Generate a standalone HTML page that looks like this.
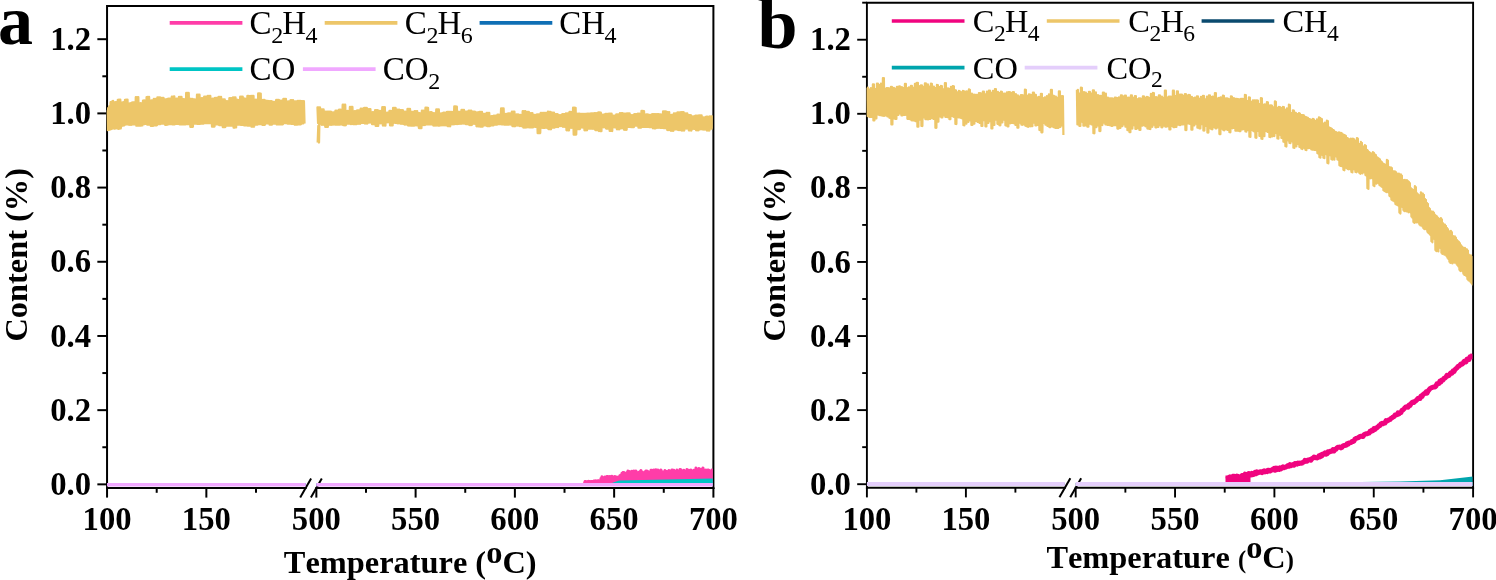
<!DOCTYPE html>
<html lang="en"><head><meta charset="utf-8"><title>Content vs Temperature</title>
<style>html,body{margin:0;padding:0;background:#fff;}body{width:1496px;height:580px;overflow:hidden;}svg{display:block;font-kerning:none;}</style></head><body>
<svg width="1496" height="580" viewBox="0 0 1496 580">
<rect width="1496" height="580" fill="#fff"/>
<clipPath id="clipa"><rect x="106.65" y="6.05" width="606.15" height="481.95"/></clipPath>
<g stroke="#000" stroke-width="2.0" fill="none" stroke-linecap="square">
<path d="M107.05,488 L107.05,6.05 L713.4,6.05 L713.4,488"/>
<path d="M107.05,488 L305.65,488 M316.35,488 L713.4,488"/>
</g>
<g stroke="#000" stroke-width="2.0" fill="none" stroke-linecap="butt">
<line x1="300.2" y1="497.45" x2="311.1" y2="478.55" stroke-width="2.0"/>
<line x1="310.9" y1="497.45" x2="321.8" y2="478.55" stroke-width="2.0"/>
<line x1="97.35" y1="484.35" x2="107.05" y2="484.35"/>
<line x1="102.35" y1="447.25" x2="107.05" y2="447.25"/>
<line x1="97.35" y1="410.16" x2="107.05" y2="410.16"/>
<line x1="102.35" y1="373.06" x2="107.05" y2="373.06"/>
<line x1="97.35" y1="335.97" x2="107.05" y2="335.97"/>
<line x1="102.35" y1="298.87" x2="107.05" y2="298.87"/>
<line x1="97.35" y1="261.77" x2="107.05" y2="261.77"/>
<line x1="102.35" y1="224.68" x2="107.05" y2="224.68"/>
<line x1="97.35" y1="187.58" x2="107.05" y2="187.58"/>
<line x1="102.35" y1="150.49" x2="107.05" y2="150.49"/>
<line x1="97.35" y1="113.39" x2="107.05" y2="113.39"/>
<line x1="102.35" y1="76.29" x2="107.05" y2="76.29"/>
<line x1="97.35" y1="39.2" x2="107.05" y2="39.2"/>
<line x1="107.05" y1="488" x2="107.05" y2="497.6"/>
<line x1="156.7" y1="488" x2="156.7" y2="492.8"/>
<line x1="206.35" y1="488" x2="206.35" y2="497.6"/>
<line x1="256" y1="488" x2="256" y2="492.8"/>
<line x1="316.35" y1="488" x2="316.35" y2="497.6"/>
<line x1="365.98" y1="488" x2="365.98" y2="492.8"/>
<line x1="415.61" y1="488" x2="415.61" y2="497.6"/>
<line x1="465.24" y1="488" x2="465.24" y2="492.8"/>
<line x1="514.88" y1="488" x2="514.88" y2="497.6"/>
<line x1="564.51" y1="488" x2="564.51" y2="492.8"/>
<line x1="614.14" y1="488" x2="614.14" y2="497.6"/>
<line x1="663.77" y1="488" x2="663.77" y2="492.8"/>
<line x1="713.4" y1="488" x2="713.4" y2="497.6"/>
</g>
<g clip-path="url(#clipa)">
<polyline points="107.05,110.1 107.65,130.09 108.25,108.1 108.85,129.79 109.45,106.1 110.05,129.49 110.65,102.22 111.25,128.93 111.85,101.62 112.45,128.63 113.05,101.02 113.65,128.36 114.25,102.7 114.85,128.63 115.45,102.25 116.05,128.38 116.65,102.1 117.25,128.13 117.85,99.96 118.45,128.9 119.05,99.81 119.65,128.65 120.25,99.66 120.85,128.4 121.45,102.49 122.05,125.69 122.65,102.34 123.25,125.44 123.85,102.19 124.45,125.19 125.05,99.93 125.65,124.39 126.25,99.78 126.85,124.34 127.45,99.65 128.05,124.29 128.65,103.4 129.25,124.8 129.85,103.33 130.45,124.74 131.05,103.26 131.65,124.69 132.25,102.42 132.85,124.32 133.45,102.35 134.05,124.26 134.65,102.29 135.25,124.21 135.85,97.26 136.45,125.61 137.05,97.19 137.65,125.56 138.25,97.12 138.85,125.5 139.45,103.24 140.05,125.5 140.65,103.17 141.25,125.44 141.85,103.1 142.45,125.39 143.05,100.6 143.65,124 144.25,100.53 144.85,123.94 145.45,100.46 146.05,123.89 146.65,97.12 147.25,124.48 147.85,97.05 148.45,124.47 149.05,96.98 149.65,124.47 150.25,100.49 150.85,125.82 151.45,100.42 152.05,125.82 152.65,100.36 153.25,125.82 153.85,99.01 154.45,125.19 155.05,98.94 155.65,125.18 156.25,98.87 156.85,125.18 157.45,97.5 158.05,124.01 158.65,97.44 159.25,124.01 159.85,97.37 160.45,124 161.05,98.07 161.65,123.65 162.25,98 162.85,123.65 163.45,97.92 164.05,123.64 164.65,99.47 165.25,124.68 165.85,99.39 166.45,124.68 167.05,99.31 167.65,124.67 168.25,98.76 168.85,124.13 169.45,98.68 170.05,124.13 170.65,98.6 171.25,124.12 171.85,96.72 172.45,124.31 173.05,96.64 173.65,124.31 174.25,96.56 174.85,124.3 175.45,98.86 176.05,123.81 176.65,98.78 177.25,123.81 177.85,98.76 178.45,123.81 179.05,96.98 179.65,124.3 180.25,96.99 180.85,124.3 181.45,97 182.05,124.29 182.65,99.13 183.25,124.31 183.85,99.14 184.45,124.3 185.05,99.15 185.65,124.3 186.25,92.95 186.85,124.08 187.45,92.96 188.05,124.07 188.65,92.97 189.25,124.07 189.85,98.82 190.45,126.76 191.05,98.83 191.65,126.76 192.25,98.84 192.85,126.75 193.45,99.51 194.05,123.53 194.65,99.52 195.25,123.52 195.85,99.53 196.45,123.52 197.05,94.76 197.65,123.92 198.25,94.77 198.85,123.91 199.45,94.78 200.05,123.91 200.65,98.1 201.25,123.44 201.85,98.11 202.45,123.43 203.05,98.12 203.65,123.43 204.25,96.75 204.85,123.08 205.45,96.76 206.05,123.07 206.65,96.77 207.25,123.07 207.85,95.97 208.45,122.95 209.05,95.98 209.65,122.95 210.25,95.99 210.85,122.95 211.45,98.7 212.05,126.49 212.65,98.71 213.25,126.48 213.85,98.72 214.45,126.48 215.05,98.03 215.65,124.21 216.25,98.04 216.85,124.21 217.45,98.05 218.05,124.21 218.65,96.9 219.25,125.05 219.85,96.91 220.45,125.04 221.05,96.92 221.65,125.04 222.25,99.36 222.85,127 223.45,99.37 224.05,127 224.65,99.38 225.25,126.99 225.85,101.2 226.45,125.62 227.05,101.21 227.65,125.61 228.25,101.22 228.85,125.61 229.45,98.24 230.05,125.67 230.65,98.25 231.25,125.66 231.85,98.26 232.45,125.66 233.05,97.43 233.65,127.43 234.25,97.44 234.85,127.43 235.45,97.45 236.05,127.42 236.65,99.82 237.25,124.52 237.85,99.87 238.45,124.52 239.05,99.93 239.65,124.51 240.25,96.68 240.85,124.71 241.45,96.74 242.05,124.7 242.65,96.8 243.25,124.7 243.85,98.54 244.45,125.37 245.05,98.6 245.65,125.37 246.25,98.66 246.85,125.37 247.45,96.01 248.05,125.67 248.65,96.07 249.25,125.66 249.85,96.13 250.45,125.66 251.05,95.88 251.65,126.64 252.25,95.94 252.85,126.64 253.45,96 254.05,126.64 254.65,99.67 255.25,124.43 255.85,99.73 256.45,124.43 257.05,99.79 257.65,124.43 258.25,93.48 258.85,123.98 259.45,93.54 260.05,123.98 260.65,93.6 261.25,123.98 261.85,99.89 262.45,124.74 263.05,99.95 263.65,124.74 264.25,100.01 264.85,124.74 265.45,100.78 266.05,123.3 266.65,100.84 267.25,123.3 267.85,100.87 268.45,123.3 269.05,101.23 269.65,124.45 270.25,101.25 270.85,124.45 271.45,101.26 272.05,124.45 272.65,102.02 273.25,123.56 273.85,102.03 274.45,123.56 275.05,102.05 275.65,123.55 276.25,100.02 276.85,124.4 277.45,100.03 278.05,124.39 278.65,100.05 279.25,124.39 279.85,100.58 280.45,124.27 281.05,100.59 281.65,124.26 282.25,100.61 282.85,124.26 283.45,98.86 284.05,123.17 284.65,98.87 285.25,123.16 285.85,98.89 286.45,123.16 287.05,101.43 287.65,123.52 288.25,101.45 288.85,123.52 289.45,101.46 290.05,123.52 290.65,100.14 291.25,123.73 291.85,100.16 292.45,123.73 293.05,100.18 293.65,123.72 294.25,101.33 294.85,124.62 295.45,101.35 296.05,124.62 296.65,101.36 297.25,124.62 297.85,100.93 298.45,124.23 299.05,100.95 299.65,124.23 300.25,100.96 300.85,124.23 301.45,101.22 302.05,123.42 302.65,101.23 303.25,123.41 303.85,101.25 304.45,123.41" fill="none" stroke="#EDC669" stroke-width="2.4" stroke-linejoin="round" />
<polyline points="317.75,142.5 318.35,126 318.95,142.5 319.35,120 317.55,107.48 318.15,123.17 318.75,107.48 319.35,123.18 319.95,107.47 320.55,123.19 321.15,109.53 321.75,124.79 322.35,109.53 322.95,124.8 323.55,109.53 324.15,124.81 324.75,111.6 325.35,126.85 325.95,111.6 326.55,126.86 327.15,111.59 327.75,126.87 328.35,111.72 328.95,124.78 329.55,111.72 330.15,124.79 330.75,111.71 331.35,124.8 331.95,112.55 332.55,124.52 333.15,112.55 333.75,124.53 334.35,112.55 334.95,124.54 335.55,110.64 336.15,124.65 336.75,110.64 337.35,124.66 337.95,110.63 338.55,124.67 339.15,109.79 339.75,124.45 340.35,109.79 340.95,124.46 341.55,109.79 342.15,124.48 342.75,104.79 343.35,125.17 343.95,104.78 344.55,125.18 345.15,104.78 345.75,125.19 346.35,110.91 346.95,123.61 347.55,110.9 348.15,123.62 348.75,110.9 349.35,123.63 349.95,106.99 350.55,123.94 351.15,106.98 351.75,123.95 352.35,106.98 352.95,123.96 353.55,111.16 354.15,124.08 354.75,111.15 355.35,124.09 355.95,111.15 356.55,124.1 357.15,110.51 357.75,123.67 358.35,110.51 358.95,123.68 359.55,110.5 360.15,123.69 360.75,108.58 361.35,122.9 361.95,108.58 362.55,122.91 363.15,108.58 363.75,122.92 364.35,108.07 364.95,123.47 365.55,108.07 366.15,123.48 366.75,108.07 367.35,123.49 367.95,109.28 368.55,122.5 369.15,109.28 369.75,122.51 370.35,109.28 370.95,122.52 371.55,112.19 372.15,124.15 372.75,112.19 373.35,124.16 373.95,112.18 374.55,124.17 375.15,110.3 375.75,125.84 376.35,110.29 376.95,125.85 377.55,110.29 378.15,125.86 378.75,110.83 379.35,123.2 379.95,110.83 380.55,123.21 381.15,110.83 381.75,123.22 382.35,107.25 382.95,125.56 383.55,107.25 384.15,125.57 384.75,107.25 385.35,125.58 385.95,112.68 386.55,122.22 387.15,112.67 387.75,122.23 388.35,112.67 388.95,122.24 389.55,110.84 390.15,125.4 390.75,110.84 391.35,125.41 391.95,110.83 392.55,125.42 393.15,107.97 393.75,122.81 394.35,107.96 394.95,122.82 395.55,107.96 396.15,122.83 396.75,109.81 397.35,123.26 397.95,109.81 398.55,123.27 399.15,109.81 399.75,123.28 400.35,110.13 400.95,123.73 401.55,110.15 402.15,123.75 402.75,110.16 403.35,123.77 403.95,111.76 404.55,124.5 405.15,111.78 405.75,124.52 406.35,111.79 406.95,124.54 407.55,109.04 408.15,125.47 408.75,109.05 409.35,125.49 409.95,109.07 410.55,125.51 411.15,111.82 411.75,125.61 412.35,111.83 412.95,125.63 413.55,111.85 414.15,125.66 414.75,111.2 415.35,125.29 415.95,111.22 416.55,125.31 417.15,111.23 417.75,125.33 418.35,113.1 418.95,128.06 419.55,113.12 420.15,128.08 420.75,113.13 421.35,128.1 421.95,110.64 422.55,124.99 423.15,110.65 423.75,125.01 424.35,110.67 424.95,125.03 425.55,107.8 426.15,124.37 426.75,107.82 427.35,124.39 427.95,107.83 428.55,124.41 429.15,112.09 429.75,124.31 430.35,112.1 430.95,124.33 431.55,112.12 432.15,124.35 432.75,113.15 433.35,125.44 433.95,113.16 434.55,125.46 435.15,113.18 435.75,125.48 436.35,109.54 436.95,125.55 437.55,109.55 438.15,125.57 438.75,109.57 439.35,125.6 439.95,113.54 440.55,125.24 441.15,113.56 441.75,125.26 442.35,113.57 442.95,125.28 443.55,112.77 444.15,125.27 444.75,112.79 445.35,125.29 445.95,112.8 446.55,125.31 447.15,111.84 447.75,126.13 448.35,111.85 448.95,126.15 449.55,111.87 450.15,126.18 450.75,111.99 451.35,124.23 451.95,112.01 452.55,124.25 453.15,112.02 453.75,124.27 454.35,106.55 454.95,124 455.55,106.56 456.15,124.02 456.75,106.58 457.35,124.04 457.95,111.81 458.55,123.75 459.15,111.83 459.75,123.77 460.35,111.84 460.95,123.79 461.55,110.04 462.15,123.51 462.75,110.06 463.35,123.53 463.95,110.07 464.55,123.55 465.15,111.61 465.75,124.05 466.35,111.62 466.95,124.07 467.55,111.64 468.15,124.09 468.75,110.73 469.35,124.94 469.95,110.75 470.55,124.96 471.15,110.76 471.75,124.98 472.35,111.69 472.95,123.74 473.55,111.7 474.15,123.76 474.75,111.72 475.35,123.78 475.95,112.47 476.55,126.3 477.15,112.49 477.75,126.32 478.35,112.5 478.95,126.34 479.55,111.96 480.15,126.59 480.75,111.97 481.35,126.61 481.95,111.99 482.55,126.63 483.15,114 483.75,125.38 484.35,114.01 484.95,125.41 485.55,114.03 486.15,125.43 486.75,112.88 487.35,126.12 487.95,112.9 488.55,126.14 489.15,112.91 489.75,126.16 490.35,116.22 490.95,125.32 491.55,116.24 492.15,125.34 492.75,116.25 493.35,125.36 493.95,115.59 494.55,124.59 495.15,115.61 495.75,124.61 496.35,115.62 496.95,124.63 497.55,114.69 498.15,124.12 498.75,114.71 499.35,124.14 499.95,114.72 500.55,124.16 501.15,108.53 501.75,124.4 502.35,108.55 502.95,124.42 503.55,108.56 504.15,124.44 504.75,113.84 505.35,124.58 505.95,113.86 506.55,124.6 507.15,113.87 507.75,124.62 508.35,113.48 508.95,124.45 509.55,113.5 510.15,124.47 510.75,113.51 511.35,124.49 511.95,111.64 512.55,126.15 513.15,111.66 513.75,126.17 514.35,111.67 514.95,126.19 515.55,114.45 516.15,125.45 516.75,114.46 517.35,125.47 517.95,114.48 518.55,125.49 519.15,114.84 519.75,126.03 520.35,114.86 520.95,126.05 521.55,114.87 522.15,126.07 522.75,111.24 523.35,127.5 523.95,111.25 524.55,127.52 525.15,111.27 525.75,127.54 526.35,111.86 526.95,127.19 527.55,111.88 528.15,127.21 528.75,111.89 529.35,127.23 529.95,113.12 530.55,127.35 531.15,113.14 531.75,127.37 532.35,113.15 532.95,127.39 533.55,114.93 534.15,126.78 534.75,114.94 535.35,126.8 535.95,114.96 536.55,126.82 537.15,114.51 537.75,133.1 538.35,114.52 538.95,133.12 539.55,114.54 540.15,133.14 540.75,112.98 541.35,127.8 541.95,113 542.55,127.82 543.15,113.01 543.75,127.84 544.35,113.03 544.95,127.78 545.55,113.05 546.15,127.8 546.75,113.06 547.35,127.82 547.95,111.82 548.55,129.15 549.15,111.83 549.75,129.17 550.35,111.85 550.95,129.19 551.55,112.72 552.15,127.63 552.75,112.73 553.35,127.65 553.95,112.75 554.55,127.67 555.15,114.26 555.75,126.92 556.35,114.27 556.95,126.94 557.55,114.29 558.15,126.96 558.75,115.24 559.35,125.95 559.95,115.25 560.55,125.97 561.15,115.27 561.75,125.99 562.35,114.19 562.95,126.68 563.55,114.21 564.15,126.71 564.75,114.22 565.35,126.73 565.95,113.39 566.55,130.29 567.15,113.41 567.75,130.31 568.35,113.43 568.95,130.34 569.55,112.01 570.15,127.72 570.75,112.03 571.35,127.74 571.95,112.04 572.55,127.76 573.15,107.8 573.75,134.45 574.35,107.81 574.95,134.47 575.55,107.83 576.15,134.49 576.75,113.59 577.35,129.09 577.95,113.6 578.55,129.11 579.15,113.62 579.75,129.13 580.35,113.89 580.95,127.47 581.55,113.9 582.15,127.49 582.75,113.92 583.35,127.51 583.95,113.91 584.55,130.21 585.15,113.93 585.75,130.23 586.35,113.94 586.95,130.25 587.55,113.78 588.15,128.58 588.75,113.79 589.35,128.6 589.95,113.81 590.55,128.62 591.15,113.43 591.75,128.67 592.35,113.44 592.95,128.69 593.55,113.46 594.15,128.71 594.75,113.28 595.35,130.08 595.95,113.3 596.55,130.1 597.15,113.31 597.75,130.12 598.35,112.55 598.95,131.06 599.55,112.57 600.15,131.08 600.75,112.58 601.35,131.1 601.95,114.64 602.55,127.16 603.15,114.65 603.75,127.18 604.35,114.67 604.95,127.2 605.55,114.02 606.15,128.56 606.75,114.04 607.35,128.58 607.95,114.06 608.55,128.6 609.15,113.65 609.75,130.9 610.35,113.67 610.95,130.92 611.55,113.68 612.15,130.94 612.75,115.7 613.35,127.29 613.95,115.71 614.55,127.31 615.15,115.73 615.75,127.33 616.35,114.37 616.95,129.27 617.55,114.39 618.15,129.29 618.75,114.4 619.35,129.31 619.95,113.22 620.55,128.21 621.15,113.24 621.75,128.23 622.35,113.25 622.95,128.25 623.55,113.6 624.15,129.79 624.75,113.62 625.35,129.81 625.95,113.63 626.55,129.83 627.15,113.36 627.75,126.9 628.35,113.38 628.95,126.92 629.55,113.39 630.15,126.94 630.75,115.22 631.35,127.04 631.95,115.24 632.55,127.07 633.15,115.25 633.75,127.09 634.35,114.27 634.95,125.59 635.55,114.28 636.15,125.61 636.75,114.3 637.35,125.63 637.95,113.78 638.55,127.59 639.15,113.79 639.75,127.61 640.35,113.81 640.95,127.63 641.55,111.06 642.15,126.83 642.75,111.07 643.35,126.85 643.95,111.09 644.55,126.87 645.15,114.35 645.75,126.83 646.35,114.36 646.95,126.85 647.55,114.38 648.15,126.87 648.75,115.04 649.35,127.09 649.95,115.05 650.55,127.11 651.15,115.07 651.75,127.13 652.35,114.22 652.95,128.3 653.55,114.23 654.15,128.32 654.75,114.25 655.35,128.34 655.95,114.09 656.55,127.72 657.15,114.1 657.75,127.74 658.35,114.12 658.95,127.76 659.55,114.42 660.15,127.81 660.75,114.44 661.35,127.83 661.95,114.45 662.55,127.85 663.15,111.37 663.75,128.15 664.35,111.39 664.95,128.17 665.55,111.4 666.15,128.19 666.75,112.07 667.35,129.95 667.95,112.08 668.55,129.97 669.15,112.1 669.75,129.99 670.35,114.93 670.95,130.68 671.55,114.95 672.15,130.7 672.75,114.97 673.35,130.72 673.95,113.41 674.55,129.33 675.15,113.42 675.75,129.35 676.35,113.44 676.95,129.37 677.55,112.4 678.15,129.96 678.75,112.41 679.35,129.98 679.95,112.43 680.55,130 681.15,112.23 681.75,130.54 682.35,112.25 682.95,130.56 683.55,112.27 684.15,130.58 684.75,113.5 685.35,128.51 685.95,113.52 686.55,128.53 687.15,113.53 687.75,128.55 688.35,115.07 688.95,130.39 689.55,115.09 690.15,130.41 690.75,115.1 691.35,130.43 691.95,116.49 692.55,128.79 693.15,116.5 693.75,128.81 694.35,116.52 694.95,128.84 695.55,115.78 696.15,130.27 696.75,115.8 697.35,130.29 697.95,115.81 698.55,130.31 699.15,115.42 699.75,129.16 700.35,115.44 700.95,129.18 701.55,115.45 702.15,129.2 702.75,117.35 703.35,129.5 703.95,117.36 704.55,129.52 705.15,117.38 705.75,129.54 706.35,116.8 706.95,130.43 707.55,116.82 708.15,130.45 708.75,116.84 709.35,130.47 709.95,116.48 710.55,128.58 711.15,116.5 711.75,128.6 712.35,116.51 712.95,128.62" fill="none" stroke="#EDC669" stroke-width="2.4" stroke-linejoin="round" />
<path d="M107.05,484.55 H305.65 M316.35,484.55 H713.4" stroke="#0F6FB5" stroke-width="2.4" fill="none"/>
<polyline points="584.5,483.48 585,481.55 585.5,483.47 586,481.69 586.5,483.84 587,481.69 587.5,483.65 588,481.42 588.5,483.55 589,481.39 589.5,483.36 590,481.59 590.5,483.93 591,481.42 591.5,483.36 592,481.44 592.5,483.77 593,481.5 593.5,483.51 594,481.09 594.5,483.88 595,481.06 595.5,483.59 596,480.86 596.5,483.89 597,481.1 597.5,483.77 598,480.75 598.5,483.67 599,480.89 599.5,483.37 600,480.72 600.5,483.94 601,478.44 601.5,483.94 602,476.71 602.5,483.62 603,477.7 603.5,482.35 604,477.42 604.5,482.43 605,476.91 605.5,483.94 606,477.42 606.5,484.16 607,476.58 607.5,483.26 608,476.6 608.5,483.2 609,476.91 609.5,483.07 610,476.41 610.5,482.24 611,477.43 611.5,482.9 612,476.16 612.5,482.83 613,476.93 613.5,483.18 614,476.79 614.5,483.9 615,476.46 615.5,483.68 616,476.93 616.5,482.67 617,477.23 617.5,483.25 618,477 618.5,483.44 619,476.68 619.5,482.73 620,475.5 620.5,483.84 621,475.11 621.5,482.29 622,473.25 622.5,481.6 623,472.53 623.5,484 624,472.53 624.5,481.23 625,473.25 625.5,483.81 626,473.43 626.5,482.19 627,472.4 627.5,482.13 628,470.92 628.5,482.02 629,471.57 629.5,482.47 630,471.72 630.5,482.63 631,473.11 631.5,483.27 632,471.33 632.5,483.61 633,471.36 633.5,482.94 634,470.97 634.5,483.32 635,472.99 635.5,483.55 636,471.03 636.5,481.96 637,472.81 637.5,483.61 638,472.62 638.5,483.66 639,472.18 639.5,482.92 640,471.48 640.5,484.35 641,470.44 641.5,482.2 642,472.12 642.5,481.49 643,472.47 643.5,483.69 644,472.57 644.5,483.66 645,471.66 645.5,483.16 646,470.94 646.5,481.93 647,471.12 647.5,482.44 648,471.57 648.5,481.4 649,472.91 649.5,483.96 650,472.09 650.5,482.72 651,470.3 651.5,483.61 652,470.33 652.5,483.71 653,470.96 653.5,481.39 654,469.92 654.5,480.85 655,471.85 655.5,481.23 656,469.8 656.5,482.01 657,470.2 657.5,480.98 658,470.07 658.5,482.89 659,470.8 659.5,482.53 660,472.25 660.5,480.8 661,469.99 661.5,480.92 662,471.77 662.5,482.14 663,472.44 663.5,480.9 664,471.74 664.5,480.76 665,470.61 665.5,483.37 666,471.5 666.5,480.84 667,471.44 667.5,481.47 668,472.63 668.5,481.73 669,470.39 669.5,483.69 670,471.8 670.5,481.14 671,470.78 671.5,481.7 672,470.12 672.5,481.01 673,470.25 673.5,482.12 674,470.24 674.5,483.87 675,471.35 675.5,481.62 676,472.04 676.5,483.69 677,469.99 677.5,483.62 678,471.99 678.5,481.71 679,472.4 679.5,481.59 680,469.57 680.5,481.93 681,469.81 681.5,482.91 682,470.93 682.5,482.43 683,472.4 683.5,483.12 684,470.19 684.5,481.92 685,471.4 685.5,483.45 686,471.93 686.5,482.01 687,469.39 687.5,481.42 688,470.97 688.5,481.84 689,470.35 689.5,481.49 690,472.39 690.5,480.87 691,469.98 691.5,482.32 692,470.93 692.5,481.28 693,471.43 693.5,481.56 694,470.21 694.5,482.36 695,470.63 695.5,482.59 696,467.92 696.5,483 697,471.27 697.5,482.93 698,472.23 698.5,482.71 699,468.54 699.5,481.29 700,472.34 700.5,482.33 701,469.31 701.5,481.57 702,471.31 702.5,480.66 703,467.91 703.5,482.5 704,470.11 704.5,482.82 705,470.78 705.5,483.58 706,469.88 706.5,483.32 707,471.19 707.5,481.19 708,470 708.5,482.66 709,470.16 709.5,483.8 710,471.09 710.5,483.01 711,472.01 711.5,480.82 712,469.91 712.5,483.93 713,471.02" fill="none" stroke="#FF3DA8" stroke-width="3" stroke-linejoin="round" />
<path d="M609,484 L619,480.4 L713.4,478.4 L713.4,486 L609,486 Z" fill="#00C5C5"/>
<line x1="107.05" y1="484.75" x2="305.65" y2="484.75" stroke="#F0A8FF" stroke-width="3.4"/>
<line x1="316.35" y1="484.75" x2="713.4" y2="484.75" stroke="#F0A8FF" stroke-width="3.4"/>
</g>
<g font-family='"Liberation Serif", serif' font-weight="bold" font-size="32.7" fill="#000">
<text x="91.05" y="494.95" text-anchor="end">0.0</text>
<text x="91.05" y="420.76" text-anchor="end">0.2</text>
<text x="91.05" y="346.57" text-anchor="end">0.4</text>
<text x="91.05" y="272.37" text-anchor="end">0.6</text>
<text x="91.05" y="198.18" text-anchor="end">0.8</text>
<text x="91.05" y="123.99" text-anchor="end">1.0</text>
<text x="91.05" y="49.8" text-anchor="end">1.2</text>
<text x="107.05" y="530" text-anchor="middle">100</text>
<text x="206.35" y="530" text-anchor="middle">150</text>
<text x="316.35" y="530" text-anchor="middle">500</text>
<text x="415.61" y="530" text-anchor="middle">550</text>
<text x="514.88" y="530" text-anchor="middle">600</text>
<text x="614.14" y="530" text-anchor="middle">650</text>
<text x="713.4" y="530" text-anchor="middle">700</text>
<text x="283.8" y="572.7" font-size="32.4">Temperature (<tspan dy="-9.6">o</tspan><tspan dy="9.6">C)</tspan></text>
<text transform="translate(27.3,254.8) rotate(-90)" text-anchor="middle" font-size="32.4">Content (%)</text>
<text x="-2" y="43.8" font-size="70">a</text>
</g>
<g font-family='"Liberation Serif", serif' font-size="33" fill="#000">
<line x1="169.7" y1="22.9" x2="242.4" y2="22.9" stroke="#FF3DA8" stroke-width="3.7"/>
<text x="249.55" y="33.8">C<tspan font-size="24" dy="8.8" dx="-0.4">2</tspan><tspan dy="-8.8" dx="-0.85">H</tspan><tspan font-size="24" dy="8.8" dx="-0.6">4</tspan></text>
<line x1="324.7" y1="22.9" x2="397.4" y2="22.9" stroke="#EDC669" stroke-width="3.7"/>
<text x="404.85" y="33.8">C<tspan font-size="24" dy="8.8" dx="-0.4">2</tspan><tspan dy="-8.8" dx="-0.85">H</tspan><tspan font-size="24" dy="8.8" dx="-0.6">6</tspan></text>
<line x1="479.6" y1="22.9" x2="552.3" y2="22.9" stroke="#0F6FB5" stroke-width="3.7"/>
<text x="559.25" y="33.8">CH<tspan font-size="24" dy="8.8" dx="-0.6">4</tspan></text>
<line x1="169.7" y1="69.2" x2="242.4" y2="69.2" stroke="#00C5C5" stroke-width="3.7"/>
<text x="249.55" y="80.1">CO</text>
<line x1="302.9" y1="69.2" x2="375.6" y2="69.2" stroke="#F0A8FF" stroke-width="3.7"/>
<text x="382.75" y="80.1">CO<tspan font-size="24" dy="8.8" dx="-0.4">2</tspan></text>
</g>
<clipPath id="clipb"><rect x="866.5" y="2.8" width="606" height="485"/></clipPath>
<g stroke="#000" stroke-width="1.9" fill="none" stroke-linecap="square">
<path d="M866.9,487.8 L866.9,2.8 L1473.1,2.8 L1473.1,487.8"/>
<path d="M866.9,487.8 L1064.9,487.8 M1075.7,487.8 L1473.1,487.8"/>
</g>
<g stroke="#000" stroke-width="1.9" fill="none" stroke-linecap="butt">
<line x1="1059.45" y1="497.25" x2="1070.35" y2="478.35" stroke-width="2.0"/>
<line x1="1070.25" y1="497.25" x2="1081.15" y2="478.35" stroke-width="2.0"/>
<line x1="857.2" y1="484.2" x2="866.9" y2="484.2"/>
<line x1="862.2" y1="447.16" x2="866.9" y2="447.16"/>
<line x1="857.2" y1="410.12" x2="866.9" y2="410.12"/>
<line x1="862.2" y1="373.08" x2="866.9" y2="373.08"/>
<line x1="857.2" y1="336.04" x2="866.9" y2="336.04"/>
<line x1="862.2" y1="299" x2="866.9" y2="299"/>
<line x1="857.2" y1="261.96" x2="866.9" y2="261.96"/>
<line x1="862.2" y1="224.92" x2="866.9" y2="224.92"/>
<line x1="857.2" y1="187.88" x2="866.9" y2="187.88"/>
<line x1="862.2" y1="150.84" x2="866.9" y2="150.84"/>
<line x1="857.2" y1="113.8" x2="866.9" y2="113.8"/>
<line x1="862.2" y1="76.76" x2="866.9" y2="76.76"/>
<line x1="857.2" y1="39.72" x2="866.9" y2="39.72"/>
<line x1="862.2" y1="2.68" x2="866.9" y2="2.68"/>
<line x1="866.9" y1="487.8" x2="866.9" y2="497.4"/>
<line x1="916.4" y1="487.8" x2="916.4" y2="492.6"/>
<line x1="965.9" y1="487.8" x2="965.9" y2="497.4"/>
<line x1="1015.4" y1="487.8" x2="1015.4" y2="492.6"/>
<line x1="1075.7" y1="487.8" x2="1075.7" y2="497.4"/>
<line x1="1125.37" y1="487.8" x2="1125.37" y2="492.6"/>
<line x1="1175.05" y1="487.8" x2="1175.05" y2="497.4"/>
<line x1="1224.72" y1="487.8" x2="1224.72" y2="492.6"/>
<line x1="1274.4" y1="487.8" x2="1274.4" y2="497.4"/>
<line x1="1324.07" y1="487.8" x2="1324.07" y2="492.6"/>
<line x1="1373.75" y1="487.8" x2="1373.75" y2="497.4"/>
<line x1="1423.42" y1="487.8" x2="1423.42" y2="492.6"/>
<line x1="1473.1" y1="487.8" x2="1473.1" y2="497.4"/>
</g>
<g clip-path="url(#clipb)">
<polyline points="866.9,87.68 867.4,116.03 867.9,87.65 868.4,116.05 868.9,89.45 869.4,116.94 869.9,89.41 870.4,116.96 870.9,88.03 871.4,116.85 871.9,88 872.4,116.87 872.9,84.28 873.4,120.37 873.9,84.24 874.4,120.39 874.9,88.93 875.4,118.36 875.9,88.89 876.4,118.38 876.9,83.67 877.4,114.55 877.9,83.64 878.4,114.57 878.9,84.96 879.4,115.05 879.9,84.93 880.4,115.06 880.9,83.58 881.4,115.51 881.9,83.55 882.4,115.53 882.9,78.11 883.4,115.82 883.9,78.08 884.4,115.83 884.9,88.64 885.4,115.4 885.9,88.61 886.4,115.42 886.9,88.09 887.4,116.51 887.9,88.05 888.4,116.52 888.9,88.47 889.4,117.78 889.9,88.44 890.4,117.8 890.9,86.9 891.4,124.37 891.9,86.86 892.4,124.39 892.9,87.9 893.4,118.55 893.9,87.86 894.4,118.57 894.9,88.66 895.4,118.84 895.9,88.62 896.4,118.86 896.9,86.89 897.4,114.89 897.9,86.85 898.4,114.91 898.9,86.49 899.4,113.51 899.9,86.46 900.4,113.53 900.9,87.23 901.4,115.45 901.9,87.2 902.4,115.47 902.9,87.99 903.4,114.85 903.9,87.96 904.4,114.87 904.9,83.93 905.4,114.83 905.9,83.9 906.4,114.84 906.9,88.01 907.4,118.84 907.9,87.98 908.4,118.86 908.9,87.34 909.4,119.05 909.9,87.31 910.4,119.07 910.9,85.93 911.4,120.29 911.9,85.89 912.4,120.3 912.9,87.64 913.4,120.39 913.9,87.61 914.4,120.4 914.9,83.76 915.4,121.19 915.9,83.72 916.4,121.21 916.9,82.87 917.4,126.75 917.9,82.84 918.4,126.77 918.9,86.22 919.4,119.6 919.9,86.18 920.4,119.62 920.9,85.26 921.4,126.02 921.9,85.23 922.4,126.04 922.9,86.66 923.4,117.43 923.9,86.63 924.4,117.45 924.9,83.34 925.4,119.12 925.9,83.4 926.4,119.15 926.9,84.34 927.4,119.29 927.9,84.4 928.4,119.33 928.9,86.45 929.4,118.95 929.9,86.51 930.4,118.98 930.9,83.7 931.4,117.88 931.9,83.77 932.4,117.91 932.9,86.51 933.4,118.93 933.9,86.58 934.4,118.97 934.9,87.95 935.4,127.82 935.9,88.02 936.4,127.85 936.9,84.97 937.4,121.6 937.9,85.03 938.4,121.63 938.9,86.88 939.4,116.34 939.9,86.94 940.4,116.37 940.9,85.97 941.4,117.39 941.9,86.03 942.4,117.42 942.9,89.01 943.4,115.49 943.9,89.08 944.4,115.52 944.9,83.02 945.4,116.92 945.9,83.08 946.4,116.95 946.9,88.29 947.4,117.12 947.9,88.35 948.4,117.15 948.9,88.77 949.4,119.14 949.9,88.83 950.4,119.18 950.9,86.91 951.4,115.89 951.9,86.97 952.4,115.92 952.9,86.18 953.4,116.78 953.9,86.24 954.4,116.81 954.9,90.18 955.4,123.93 955.9,90.25 956.4,124.04 956.9,92.01 957.4,117.05 957.9,92.34 958.4,117.28 958.9,90.97 959.4,117.5 959.9,91.3 960.4,117.73 960.9,91.99 961.4,118.22 961.9,92.32 962.4,118.44 962.9,90.91 963.4,125.18 963.9,91.24 964.4,125.41 964.9,91.51 965.4,123.38 965.9,91.84 966.4,123.61 966.9,91.39 967.4,121.73 967.9,91.73 968.4,121.95 968.9,89.43 969.4,120.24 969.9,89.77 970.4,120.47 970.9,93.59 971.4,124.94 971.9,93.63 972.4,124.99 972.9,94.69 973.4,123.63 973.9,94.7 974.4,123.68 974.9,94.79 975.4,120.93 975.9,94.8 976.4,120.99 976.9,94.9 977.4,121.84 977.9,94.91 978.4,121.9 978.9,93.05 979.4,122.85 979.9,93.07 980.4,122.9 980.9,93.29 981.4,125.89 981.9,93.3 982.4,125.94 982.9,91.62 983.4,120.17 983.9,91.63 984.4,120.23 984.9,94.21 985.4,126.32 985.9,94.22 986.4,126.38 986.9,91.71 987.4,122.93 987.9,91.72 988.4,122.99 988.9,90.59 989.4,121.08 989.9,90.6 990.4,121.13 990.9,92.5 991.4,128.45 991.9,92.51 992.4,128.5 992.9,90.93 993.4,124.96 993.9,90.94 994.4,125.01 994.9,89.08 995.4,119.62 995.9,89.09 996.4,119.68 996.9,91.78 997.4,123.84 997.9,91.8 998.4,123.89 998.9,92.82 999.4,125.29 999.9,92.84 1000.4,125.35 1000.9,91.72 1001.4,122.33 1001.9,91.74 1002.4,122.39 1002.9,93.6 1003.4,119.72 1003.9,93.61 1004.4,119.78 1004.9,93.66 1005.4,125.32 1005.9,93.67 1006.4,125.37 1006.9,92.43 1007.4,126.33 1007.9,92.44 1008.4,126.39 1008.9,92.01 1009.4,123.29 1009.9,92.02 1010.4,123.33 1010.9,92.77 1011.4,122.98 1011.9,92.89 1012.4,123.02 1012.9,92.03 1013.4,123.26 1013.9,92.15 1014.4,123.3 1014.9,94.02 1015.4,124.96 1015.9,94.14 1016.4,125 1016.9,95.31 1017.4,127.67 1017.9,95.43 1018.4,127.71 1018.9,96.36 1019.4,122.77 1019.9,96.48 1020.4,122.81 1020.9,95.08 1021.4,124.74 1021.9,95.2 1022.4,124.78 1022.9,95.38 1023.4,124.51 1023.9,95.5 1024.4,124.55 1024.9,89.71 1025.4,125.8 1025.9,89.83 1026.4,125.84 1026.9,95.61 1027.4,126.74 1027.9,95.73 1028.4,126.78 1028.9,94.46 1029.4,126.26 1029.9,94.58 1030.4,126.29 1030.9,94.77 1031.4,126.21 1031.9,94.81 1032.4,126.24 1032.9,92.64 1033.4,122.72 1033.9,92.67 1034.4,122.76 1034.9,94.71 1035.4,125.43 1035.9,94.74 1036.4,125.47 1036.9,97.23 1037.4,124.97 1037.9,97.26 1038.4,125.01 1038.9,96.75 1039.4,130.06 1039.9,96.78 1040.4,130.1 1040.9,93.79 1041.4,132.3 1041.9,93.82 1042.4,132.34 1042.9,98.11 1043.4,122.97 1043.9,98.14 1044.4,123.01 1044.9,97.43 1045.4,124.7 1045.9,97.46 1046.4,124.74 1046.9,96.03 1047.4,125.92 1047.9,96.06 1048.4,125.95 1048.9,94.47 1049.4,127.15 1049.9,94.5 1050.4,127.19 1050.9,89.93 1051.4,126.2 1051.9,89.96 1052.4,126.24 1052.9,95.71 1053.4,127.25 1053.9,95.74 1054.4,127.29 1054.9,96.69 1055.4,127.9 1055.9,96.72 1056.4,127.93 1056.9,97.72 1057.4,127.97 1057.9,97.75 1058.4,128 1058.9,91.38 1059.4,126.83 1059.9,91.41 1060.4,126.86 1060.9,96.03 1061.4,125.34 1061.9,96.05 1062.4,125.38 1062.9,96.2 1063.4,134.95" fill="none" stroke="#EDC669" stroke-width="2.2" stroke-linejoin="round" />
<polyline points="1076.9,89.71 1077.4,124.4 1077.9,89.76 1078.4,124.45 1078.9,93.41 1079.4,125.95 1079.9,93.46 1080.4,126 1080.9,87.72 1081.4,121.73 1081.9,87.77 1082.4,121.78 1082.9,92.05 1083.4,125.66 1083.9,92.09 1084.4,125.71 1084.9,92.63 1085.4,125.41 1085.9,92.68 1086.4,125.46 1086.9,93.9 1087.4,126.71 1087.9,93.95 1088.4,126.76 1088.9,91.74 1089.4,123.71 1089.9,91.78 1090.4,123.76 1090.9,93.4 1091.4,124.51 1091.9,93.44 1092.4,124.55 1092.9,90.37 1093.4,133.24 1093.9,90.42 1094.4,133.28 1094.9,92.42 1095.4,127.13 1095.9,92.46 1096.4,127.17 1096.9,95.13 1097.4,125.54 1097.9,95.18 1098.4,125.58 1098.9,95.92 1099.4,131.03 1099.9,95.96 1100.4,131.08 1100.9,95.94 1101.4,125.01 1101.9,95.99 1102.4,125.06 1102.9,92.55 1103.4,122.73 1103.9,92.59 1104.4,122.77 1104.9,93.64 1105.4,124.41 1105.9,93.69 1106.4,124.46 1106.9,97.56 1107.4,124.97 1107.9,97.61 1108.4,125.01 1108.9,98.32 1109.4,125.11 1109.9,98.37 1110.4,125.16 1110.9,98.4 1111.4,125.88 1111.9,98.44 1112.4,125.92 1112.9,98.65 1113.4,125.21 1113.9,98.7 1114.4,125.26 1114.9,97.65 1115.4,125.24 1115.9,97.7 1116.4,125.28 1116.9,97.98 1117.4,128.57 1117.9,98.02 1118.4,128.62 1118.9,97.29 1119.4,127.83 1119.9,97.34 1120.4,127.87 1120.9,95.43 1121.4,126.19 1121.9,95.45 1122.4,126.21 1122.9,96.3 1123.4,124.33 1123.9,96.32 1124.4,124.36 1124.9,95.68 1125.4,126.67 1125.9,95.71 1126.4,126.69 1126.9,97.7 1127.4,130.18 1127.9,97.73 1128.4,130.2 1128.9,97.66 1129.4,132.08 1129.9,97.68 1130.4,132.11 1130.9,95.43 1131.4,128.56 1131.9,95.45 1132.4,128.58 1132.9,97.55 1133.4,125.31 1133.9,97.58 1134.4,125.34 1134.9,95.99 1135.4,128.93 1135.9,96.01 1136.4,128.96 1136.9,99.15 1137.4,128.24 1137.9,99.17 1138.4,128.26 1138.9,98.34 1139.4,129.86 1139.9,98.37 1140.4,129.88 1140.9,98.49 1141.4,125.73 1141.9,98.51 1142.4,125.75 1142.9,96.24 1143.4,125.16 1143.9,96.27 1144.4,125.18 1144.9,97.57 1145.4,126.28 1145.9,97.6 1146.4,126.31 1146.9,96.97 1147.4,128.54 1147.9,97 1148.4,128.56 1148.9,97.75 1149.4,129.01 1149.9,97.77 1150.4,129.03 1150.9,93.74 1151.4,126.8 1151.9,93.77 1152.4,126.83 1152.9,92.97 1153.4,124.82 1153.9,93 1154.4,124.84 1154.9,97.13 1155.4,127.35 1155.9,97.15 1156.4,127.37 1156.9,97.24 1157.4,126.83 1157.9,97.26 1158.4,126.86 1158.9,95.28 1159.4,125.26 1159.9,95.3 1160.4,125.27 1160.9,96.55 1161.4,127.31 1161.9,96.55 1162.4,127.31 1162.9,97.58 1163.4,125.61 1163.9,97.58 1164.4,125.61 1164.9,90.64 1165.4,126.7 1165.9,90.64 1166.4,126.7 1166.9,97.36 1167.4,126.29 1167.9,97.36 1168.4,126.29 1168.9,96.5 1169.4,129.52 1169.9,96.51 1170.4,129.52 1170.9,96.5 1171.4,125.94 1171.9,96.5 1172.4,125.94 1172.9,90.67 1173.4,127.14 1173.9,90.67 1174.4,127.14 1174.9,95.78 1175.4,126.98 1175.9,95.78 1176.4,126.99 1176.9,91.41 1177.4,124.62 1177.9,91.41 1178.4,124.62 1178.9,94.5 1179.4,125.08 1179.9,94.5 1180.4,125.08 1180.9,94.59 1181.4,124.42 1181.9,94.59 1182.4,124.43 1182.9,95.55 1183.4,124.3 1183.9,95.55 1184.4,124.3 1184.9,94.12 1185.4,130.05 1185.9,94.12 1186.4,130.06 1186.9,95.3 1187.4,123.46 1187.9,95.31 1188.4,123.46 1188.9,94.97 1189.4,123.78 1189.9,94.98 1190.4,123.78 1190.9,96.75 1191.4,129.62 1191.9,96.75 1192.4,129.62 1192.9,98.1 1193.4,125.39 1193.9,98.1 1194.4,125.4 1194.9,97.49 1195.4,123.82 1195.9,97.49 1196.4,123.82 1196.9,96.27 1197.4,127.63 1197.9,96.27 1198.4,127.63 1198.9,98.69 1199.4,128.47 1199.9,98.69 1200.4,128.47 1200.9,96.95 1201.4,124.2 1201.9,96.95 1202.4,124.2 1202.9,95.81 1203.4,130.58 1203.9,95.82 1204.4,130.58 1204.9,99.04 1205.4,125.93 1205.9,99.04 1206.4,125.93 1206.9,96.58 1207.4,132.54 1207.9,96.58 1208.4,132.55 1208.9,95.23 1209.4,128.35 1209.9,95.24 1210.4,128.35 1210.9,96.89 1211.4,129.22 1211.9,96.97 1212.4,129.3 1212.9,96.59 1213.4,127.18 1213.9,96.68 1214.4,127.26 1214.9,93.11 1215.4,128.32 1215.9,93.19 1216.4,128.41 1216.9,98.47 1217.4,127.42 1217.9,98.55 1218.4,127.5 1218.9,97.86 1219.4,134.03 1219.9,97.94 1220.4,134.12 1220.9,97.28 1221.4,128.7 1221.9,97.37 1222.4,128.79 1222.9,95.69 1223.4,130.22 1223.9,95.78 1224.4,130.3 1224.9,98.3 1225.4,129.25 1225.9,98.39 1226.4,129.34 1226.9,98.42 1227.4,129.82 1227.9,98.5 1228.4,129.9 1228.9,99.07 1229.4,132.21 1229.9,99.15 1230.4,132.3 1230.9,96.47 1231.4,128.23 1231.9,96.55 1232.4,128.31 1232.9,98.05 1233.4,127.83 1233.9,98.14 1234.4,127.91 1234.9,98.8 1235.4,130.66 1235.9,98.89 1236.4,130.75 1236.9,98.94 1237.4,130.68 1237.9,99.03 1238.4,130.77 1238.9,99.33 1239.4,131.15 1239.9,99.41 1240.4,131.24 1240.9,98.73 1241.4,129.33 1241.9,98.81 1242.4,129.41 1242.9,98.83 1243.4,129.07 1243.9,98.92 1244.4,129.15 1244.9,94.77 1245.4,131.48 1245.9,94.98 1246.4,131.72 1246.9,100.74 1247.4,129.92 1247.9,100.97 1248.4,130.16 1248.9,97.35 1249.4,136.64 1249.9,97.58 1250.4,136.87 1250.9,101.52 1251.4,129.76 1251.9,101.75 1252.4,130 1252.9,100.28 1253.4,131.13 1253.9,100.51 1254.4,131.37 1254.9,100.34 1255.4,137.59 1255.9,100.58 1256.4,137.83 1256.9,100.39 1257.4,130.84 1257.9,100.62 1258.4,131.07 1258.9,103.94 1259.4,135.87 1259.9,104.17 1260.4,136.11 1260.9,98.05 1261.4,138.65 1261.9,98.29 1262.4,138.88 1262.9,104.66 1263.4,135.88 1263.9,104.89 1264.4,136.11 1264.9,104.23 1265.4,130.99 1265.9,104.46 1266.4,131.22 1266.9,102.13 1267.4,131.79 1267.9,102.36 1268.4,132.03 1268.9,105.33 1269.4,136.92 1269.9,105.56 1270.4,137.15 1270.9,105.31 1271.4,136.22 1271.9,105.55 1272.4,136.45 1272.9,107.04 1273.4,135.87 1273.9,107.28 1274.4,136.1 1274.9,101.39 1275.4,132.81 1275.9,101.74 1276.4,133.14 1276.9,107.68 1277.4,138.39 1277.9,108.04 1278.4,138.73 1278.9,106.82 1279.4,134.64 1279.9,107.18 1280.4,134.98 1280.9,107.78 1281.4,137.9 1281.9,108.14 1282.4,138.24 1282.9,106.73 1283.4,141.77 1283.9,107.09 1284.4,142.1 1284.9,109.65 1285.4,146.2 1285.9,110.01 1286.4,146.54 1286.9,108.29 1287.4,140.21 1287.9,108.64 1288.4,140.55 1288.9,104.63 1289.4,142.93 1289.9,104.99 1290.4,143.27 1290.9,112.97 1291.4,141.22 1291.9,113.33 1292.4,141.56 1292.9,110.34 1293.4,147.69 1293.9,110.69 1294.4,148.02 1294.9,112.55 1295.4,146.04 1295.9,112.91 1296.4,146.37 1296.9,113.86 1297.4,143.86 1297.9,114.22 1298.4,144.19 1298.9,113.21 1299.4,146.96 1299.9,113.57 1300.4,147.3 1300.9,114.83 1301.4,148.76 1301.9,115.19 1302.4,149.09 1302.9,115.05 1303.4,147.66 1303.9,115.4 1304.4,148 1304.9,116.63 1305.4,149.84 1305.9,116.99 1306.4,150.18 1306.9,117.5 1307.4,147.92 1307.9,117.86 1308.4,148.26 1308.9,118.92 1309.4,147.98 1309.9,119.28 1310.4,148.31 1310.9,119.7 1311.4,149.43 1311.9,120.06 1312.4,149.76 1312.9,118.92 1313.4,149.55 1313.9,119.28 1314.4,149.88 1314.9,120.9 1315.4,149.98 1315.9,121.26 1316.4,150.32 1316.9,119.23 1317.4,153.23 1317.9,119.59 1318.4,153.62 1318.9,117.45 1319.4,157.15 1319.9,117.95 1320.4,157.63 1320.9,118.58 1321.4,154.48 1321.9,119.08 1322.4,154.95 1322.9,123.37 1323.4,157.68 1323.9,123.87 1324.4,158.16 1324.9,122.67 1325.4,153.8 1325.9,123.17 1326.4,154.28 1326.9,120.64 1327.4,162.9 1327.9,121.15 1328.4,163.38 1328.9,127.23 1329.4,154.83 1329.9,127.73 1330.4,155.31 1330.9,128.41 1331.4,159.15 1331.9,128.91 1332.4,159.63 1332.9,129.89 1333.4,159.2 1333.9,130.39 1334.4,159.67 1334.9,131.51 1335.4,156.12 1335.9,132.01 1336.4,156.6 1336.9,132.48 1337.4,159.49 1337.9,132.98 1338.4,159.97 1338.9,132.37 1339.4,165.32 1339.9,132.87 1340.4,165.8 1340.9,132.96 1341.4,165.92 1341.9,133.46 1342.4,166.4 1342.9,134.39 1343.4,169.85 1343.9,134.89 1344.4,170.32 1344.9,135.4 1345.4,167.48 1345.9,135.91 1346.4,167.96 1346.9,137.78 1347.4,168.83 1347.9,138.28 1348.4,169.31 1348.9,139.19 1349.4,168.95 1349.9,139.69 1350.4,169.43 1350.9,138.52 1351.4,172 1351.9,139.03 1352.4,172.48 1352.9,138.69 1353.4,169.03 1353.9,139.2 1354.4,169.5 1354.9,140.37 1355.4,171.87 1355.9,140.87 1356.4,172.35 1356.9,138.14 1357.4,171.09 1357.9,138.65 1358.4,171.69 1358.9,143.8 1359.4,173.07 1359.9,144.58 1360.4,173.83 1360.9,141.96 1361.4,172.7 1361.9,142.75 1362.4,173.47 1362.9,146.47 1363.4,171.67 1363.9,147.25 1364.4,172.43 1364.9,145.1 1365.4,174.88 1365.9,145.89 1366.4,175.64 1366.9,149.91 1367.4,188.2 1367.9,150.69 1368.4,188.96 1368.9,151.84 1369.4,177.57 1369.9,152.63 1370.4,178.34 1370.9,153.29 1371.4,177.68 1371.9,154.07 1372.4,178.44 1372.9,152.02 1373.4,185.45 1373.9,152.8 1374.4,186.21 1374.9,154.28 1375.4,183.01 1375.9,155.07 1376.4,183.77 1376.9,157.1 1377.4,182.33 1377.9,157.88 1378.4,183.09 1378.9,158.56 1379.4,184.93 1379.9,159.35 1380.4,185.69 1380.9,161.22 1381.4,186.45 1381.9,162 1382.4,187.21 1382.9,163.32 1383.4,190.13 1383.9,164.1 1384.4,190.9 1384.9,164.6 1385.4,191.38 1385.9,165.39 1386.4,192.15 1386.9,159.82 1387.4,191.76 1387.9,160.61 1388.4,192.52 1388.9,166.94 1389.4,195.78 1389.9,167.73 1390.4,196.55 1390.9,167.29 1391.4,199.58 1391.9,168.07 1392.4,200.35 1392.9,171.18 1393.4,200.62 1393.9,171.97 1394.4,201.39 1394.9,171.26 1395.4,203.96 1395.9,172.05 1396.4,204.72 1396.9,173.33 1397.4,204.87 1397.9,174.11 1398.4,205.75 1398.9,173.59 1399.4,212.53 1399.9,174.67 1400.4,213.59 1400.9,174.44 1401.4,205.82 1401.9,175.51 1402.4,206.89 1402.9,179.78 1403.4,210.1 1403.9,180.85 1404.4,211.17 1404.9,179.91 1405.4,210.41 1405.9,180.97 1406.4,211.47 1406.9,180.09 1407.4,211.22 1407.9,181.15 1408.4,212.28 1408.9,181.97 1409.4,211.46 1409.9,183.03 1410.4,212.52 1410.9,188.13 1411.4,216.56 1411.9,189.19 1412.4,217.63 1412.9,189.86 1413.4,221.94 1413.9,190.93 1414.4,223.01 1414.9,186 1415.4,221.34 1415.9,187.07 1416.4,222.4 1416.9,193 1417.4,221.55 1417.9,194.06 1418.4,222.62 1418.9,195.04 1419.4,224.39 1419.9,196.11 1420.4,225.46 1420.9,192.39 1421.4,225.48 1421.9,193.45 1422.4,226.55 1422.9,193.72 1423.4,228.13 1423.9,194.79 1424.4,229.2 1424.9,198.78 1425.4,228.42 1425.9,199.85 1426.4,229.48 1426.9,202.83 1427.4,231.84 1427.9,203.9 1428.4,232.91 1428.9,207.91 1429.4,233.8 1429.9,208.97 1430.4,234.86 1430.9,211.05 1431.4,241.26 1431.9,212.12 1432.4,242.32 1432.9,211.55 1433.4,237.95 1433.9,212.62 1434.4,239.02 1434.9,214.66 1435.4,250.06 1435.9,215.72 1436.4,251.13 1436.9,216.4 1437.4,250.18 1437.9,217.63 1438.4,251.43 1438.9,218.64 1439.4,246.68 1439.9,219.89 1440.4,247.93 1440.9,217.99 1441.4,252.76 1441.9,219.24 1442.4,254 1442.9,223.04 1443.4,253.37 1443.9,224.29 1444.4,254.62 1444.9,224.56 1445.4,254.76 1445.9,225.81 1446.4,256.01 1446.9,227.76 1447.4,257.72 1447.9,229.01 1448.4,258.97 1448.9,231.16 1449.4,261.71 1449.9,232.41 1450.4,262.96 1450.9,230.95 1451.4,262.2 1451.9,232.2 1452.4,263.45 1452.9,235.93 1453.4,261.37 1453.9,237.17 1454.4,262.62 1454.9,236.43 1455.4,262.51 1455.9,237.68 1456.4,263.75 1456.9,239.97 1457.4,265.2 1457.9,241.22 1458.4,266.44 1458.9,241.96 1459.4,269.79 1459.9,243.21 1460.4,271.04 1460.9,245.07 1461.4,270.1 1461.9,246.32 1462.4,271.34 1462.9,247.37 1463.4,273.7 1463.9,248.62 1464.4,274.95 1464.9,247.87 1465.4,275.01 1465.9,249.12 1466.4,276.26 1466.9,249.3 1467.4,279.08 1467.9,250.55 1468.4,280.33 1468.9,254.6 1469.4,280.61 1469.9,255.85 1470.4,281.85 1470.9,255.39 1471.4,283.09 1471.9,256.8 1472.4,284.52 1472.9,258.62" fill="none" stroke="#EDC669" stroke-width="2.2" stroke-linejoin="round" />
<path d="M866.9,484.2 H1064.9 M1075.7,484.2 H1473.1" stroke="#0A4A6E" stroke-width="2.4" fill="none"/>
<rect x="1225.5" y="475.5" width="25" height="8" fill="#F0047F"/>
<polyline points="1226,479.23 1227,479.06 1228,478.24 1229,477.56 1230,476.87 1231,477.42 1232,477.3 1233,476.32 1234,476.16 1235,478.07 1236,477.13 1237,476.04 1238,476.31 1239,477.32 1240,476.97 1241,476.68 1242,475.51 1243,475.55 1244,475.78 1245,474.25 1246,475.16 1247,474.35 1248,475.51 1249,473.53 1250,474.71 1251,474.94 1252,473.34 1253,474.63 1254,474.39 1255,472.33 1256,473.65 1257,471.91 1258,472.82 1259,472.48 1260,471.77 1261,471.84 1262,472.7 1263,471.42 1264,470.85 1265,471.86 1266,471.1 1267,471.67 1268,470.22 1269,470.19 1270,471.03 1271,470.17 1272,469.95 1273,469.13 1274,468.42 1275,470.22 1276,468.13 1277,469.56 1278,468.28 1279,469.33 1280,467.88 1281,468.81 1282,467.73 1283,466.79 1284,467.64 1285,467.24 1286,467.01 1287,466.26 1288,465.47 1289,466.13 1290,464.68 1291,465.7 1292,465.3 1293,464.45 1294,465.1 1295,463.49 1296,463.63 1297,464.23 1298,463.02 1299,463.46 1300,462.93 1301,463.35 1302,463.15 1303,462.25 1304,462.12 1305,460.36 1306,461.27 1307,461.24 1308,459.92 1309,459.92 1310,459.42 1311,460.13 1312,458.38 1313,458.21 1314,456.98 1315,457.54 1316,457.65 1317,457.95 1318,457.55 1319,455.87 1320,456.95 1321,454.8 1322,455.81 1323,453.96 1324,454.11 1325,452.98 1326,454.31 1327,453.84 1328,451.91 1329,452.35 1330,451.34 1331,451.43 1332,451.14 1333,449.72 1334,450.95 1335,449.23 1336,449.15 1337,447.85 1338,447.27 1339,447.24 1340,447.1 1341,447.93 1342,447.37 1343,446 1344,445.46 1345,445.45 1346,445.38 1347,443.75 1348,444.25 1349,442.89 1350,442.81 1351,442.62 1352,441.59 1353,441.49 1354,440.98 1355,438.93 1356,438.48 1357,438.18 1358,437.79 1359,437.22 1360,436.34 1361,436.16 1362,436.45 1363,436.51 1364,434.77 1365,434.24 1366,433.78 1367,433.78 1368,433.43 1369,433.19 1370,431.36 1371,431.49 1372,430.09 1373,430.55 1374,428.64 1375,429.44 1376,428.03 1377,427.89 1378,426.85 1379,425.75 1380,425.51 1381,423.9 1382,423.25 1383,423.68 1384,422.92 1385,423.06 1386,420.62 1387,421.14 1388,420.34 1389,419.91 1390,419.53 1391,418.41 1392,417.82 1393,416.99 1394,416.58 1395,415.09 1396,415.07 1397,414.64 1398,412.89 1399,413.95 1400,412.71 1401,412.46 1402,410.3 1403,409.92 1404,408.8 1405,407.61 1406,406.83 1407,406.61 1408,407.23 1409,404.97 1410,405.39 1411,403.69 1412,402.54 1413,402.08 1414,402.41 1415,401.27 1416,400.63 1417,399.66 1418,398.51 1419,398.23 1420,398.42 1421,396.08 1422,396.48 1423,394.65 1424,393.76 1425,393.27 1426,391.99 1427,393.07 1428,391.04 1429,389.84 1430,388.67 1431,388.02 1432,387.58 1433,387.23 1434,386.85 1435,386.9 1436,385.9 1437,383.68 1438,383.7 1439,383.59 1440,380.99 1441,381.84 1442,380.03 1443,380.08 1444,378.27 1445,378.13 1446,377.07 1447,375.38 1448,376.01 1449,375.34 1450,373.79 1451,372.77 1452,373.2 1453,371.13 1454,371.43 1455,369.6 1456,368.7 1457,367.86 1458,366.39 1459,366.05 1460,365.14 1461,363.96 1462,364.21 1463,363.18 1464,361.45 1465,360.93 1466,361.8 1467,359.27 1468,358.99 1469,359.46 1470,356.81 1471,356.66 1472,356.72 1473,354.2" fill="none" stroke="#F0047F" stroke-width="5" stroke-linejoin="round" />
<path d="M1340,483 L1342,482.3 L1400,481.6 L1440,480.2 L1473.1,476.6 L1473.1,486 L1340,486 Z" fill="#00A5AD"/>
<line x1="866.9" y1="484" x2="1064.9" y2="484" stroke="#E4CEFB" stroke-width="3.8"/>
<line x1="1075.7" y1="484" x2="1473.1" y2="484" stroke="#E4CEFB" stroke-width="3.8"/>
</g>
<g font-family='"Liberation Serif", serif' font-weight="bold" font-size="32.7" fill="#000">
<text x="850.9" y="494.8" text-anchor="end">0.0</text>
<text x="850.9" y="420.72" text-anchor="end">0.2</text>
<text x="850.9" y="346.64" text-anchor="end">0.4</text>
<text x="850.9" y="272.56" text-anchor="end">0.6</text>
<text x="850.9" y="198.48" text-anchor="end">0.8</text>
<text x="850.9" y="124.4" text-anchor="end">1.0</text>
<text x="850.9" y="50.32" text-anchor="end">1.2</text>
<text x="866.9" y="530" text-anchor="middle">100</text>
<text x="965.9" y="530" text-anchor="middle">150</text>
<text x="1075.7" y="530" text-anchor="middle">500</text>
<text x="1175.05" y="530" text-anchor="middle">550</text>
<text x="1274.4" y="530" text-anchor="middle">600</text>
<text x="1373.75" y="530" text-anchor="middle">650</text>
<text x="1473.1" y="530" text-anchor="middle">700</text>
<text x="1046.4" y="568.3" font-size="32.4">Temperature <tspan font-size="24.5">(</tspan><tspan dy="-10.4">o</tspan><tspan dy="10.4">C</tspan><tspan font-size="24.5">)</tspan></text>
<text transform="translate(785,254.8) rotate(-90)" text-anchor="middle" font-size="32.4">Content (%)</text>
<text x="757.6" y="47.8" font-size="72">b</text>
</g>
<g font-family='"Liberation Serif", serif' font-size="32.4" fill="#000">
<line x1="891.8" y1="21" x2="964.5" y2="21" stroke="#F0047F" stroke-width="3.7"/>
<text x="972.8" y="31.9">C<tspan font-size="23.5" dy="8.8" dx="-0.4">2</tspan><tspan dy="-8.8" dx="-0.85">H</tspan><tspan font-size="23.5" dy="8.8" dx="-0.6">4</tspan></text>
<line x1="1046.8" y1="21" x2="1119.5" y2="21" stroke="#EDC669" stroke-width="3.7"/>
<text x="1128.3" y="31.9">C<tspan font-size="23.5" dy="8.8" dx="-0.4">2</tspan><tspan dy="-8.8" dx="-0.85">H</tspan><tspan font-size="23.5" dy="8.8" dx="-0.6">6</tspan></text>
<line x1="1201.6" y1="21" x2="1274.3" y2="21" stroke="#0A4A6E" stroke-width="3.7"/>
<text x="1282.5" y="31.9">CH<tspan font-size="23.5" dy="8.8" dx="-0.6">4</tspan></text>
<line x1="891.8" y1="67.7" x2="964.5" y2="67.7" stroke="#00A5AD" stroke-width="3.7"/>
<text x="972.8" y="78.6">CO</text>
<line x1="1024.7" y1="67.7" x2="1097.4" y2="67.7" stroke="#E4CEFB" stroke-width="3.7"/>
<text x="1106.5" y="78.6">CO<tspan font-size="23.5" dy="8.8" dx="-0.4">2</tspan></text>
</g>
</svg></body></html>
